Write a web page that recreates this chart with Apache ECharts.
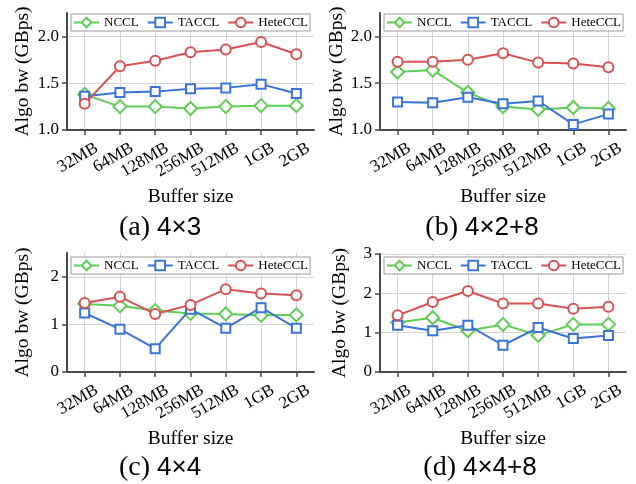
<!DOCTYPE html>
<html>
<head>
<meta charset="utf-8">
<script src="https://cdn.jsdelivr.net/npm/echarts@6/dist/echarts.min.js"></script>
<style>
html, body { margin: 0; padding: 0; background: #fff; }
#chart { width: 636px; height: 484px; }
</style>
</head>
<body>
<div id="chart"></div>
<script>
// buffer sizes on the x axis
const sizes = ['32MB', '64MB', '128MB', '256MB', '512MB', '1GB', '2GB'];
const seriesNames = ['NCCL', 'TACCL', 'HeteCCL'];

// (a) 4x3
const ncclA = [1.38, 1.25, 1.25, 1.23, 1.25, 1.26, 1.26];
const tacclA = [1.36, 1.40, 1.41, 1.44, 1.45, 1.49, 1.39];
const heteA = [1.28, 1.68, 1.74, 1.83, 1.86, 1.94, 1.81];
// (b) 4x2+8
const ncclB = [1.62, 1.64, 1.40, 1.25, 1.22, 1.24, 1.23];
const tacclB = [1.30, 1.29, 1.35, 1.28, 1.31, 1.06, 1.17];
const heteB = [1.73, 1.73, 1.75, 1.82, 1.72, 1.71, 1.67];
// (c) 4x4
const ncclC = [1.43, 1.39, 1.29, 1.23, 1.22, 1.19, 1.20];
const tacclC = [1.24, 0.90, 0.49, 1.32, 0.92, 1.35, 0.92];
const heteC = [1.45, 1.58, 1.22, 1.41, 1.74, 1.65, 1.61];
// (d) 4x4+8
const ncclD = [1.26, 1.38, 1.05, 1.21, 0.93, 1.21, 1.21];
const tacclD = [1.19, 1.05, 1.19, 0.68, 1.13, 0.85, 0.93];
const heteD = [1.44, 1.78, 2.06, 1.74, 1.74, 1.61, 1.66];

// y tick labels per panel
const ticksTop = [1.0, 1.5, 2.0];
const ticksC = [0, 1, 2];
const ticksD = [0, 1, 2, 3];

const colors = ['#5fcd55', '#3b74d8', '#d75252'];
const symbols = ['emptyDiamond', 'emptyRect', 'emptyCircle'];
const symbolSizes = [13, 9, 10];
const serif = 'Liberation Serif';
const sans = 'Liberation Sans';

const panels = [
    { tag: '(a)', cfg: '4×3', data: [ncclA, tacclA, heteA], ticks: ticksTop, min: 1, max: 2.25, dec: 1,
      grid: { left: 67, top: 13, width: 247, height: 117 }, nameGap: 34, legend: { left: 71, top: 14 }, title: { left: 160, top: 213 } },
    { tag: '(b)', cfg: '4×2+8', data: [ncclB, tacclB, heteB], ticks: ticksTop, min: 1, max: 2.25, dec: 1,
      grid: { left: 380, top: 13, width: 246, height: 117 }, nameGap: 31, legend: { left: 384, top: 14 }, title: { left: 482, top: 213 } },
    { tag: '(c)', cfg: '4×4', data: [ncclC, tacclC, heteC], ticks: ticksC, min: 0, max: 2.5, dec: 0,
      grid: { left: 67, top: 253, width: 247, height: 119 }, nameGap: 34, legend: { left: 71, top: 257 }, title: { left: 160, top: 453 } },
    { tag: '(d)', cfg: '4×4+8', data: [ncclD, tacclD, heteD], ticks: ticksD, min: 0, max: 3, dec: 0,
      grid: { left: 380, top: 254, width: 246, height: 118 }, nameGap: 30, legend: { left: 384, top: 257 }, title: { left: 480, top: 453 } }
];

const axisColor = '#4a4a4a';
const gridColor = '#d4d4d4';

const option = {
    animation: false,
    backgroundColor: '#fff',
    title: [],
    legend: [],
    grid: [],
    xAxis: [],
    yAxis: [],
    series: []
};

panels.forEach(function (p, i) {
    option.grid.push(Object.assign({ containLabel: false }, p.grid));
    option.title.push({
        text: '{p|' + p.tag + '} {d|' + p.cfg + '}',
        left: p.title.left,
        top: p.title.top,
        textAlign: 'center',
        padding: 0,
        textStyle: {
            fontFamily: serif, fontSize: 28, fontWeight: 'normal', color: '#000',
            rich: {
                p: { fontFamily: serif, fontSize: 28, color: '#000', lineHeight: 30 },
                d: { fontFamily: sans, fontSize: 26, color: '#000', lineHeight: 30 }
            }
        }
    });
    option.legend.push({
        data: seriesNames,
        left: p.legend.left,
        top: p.legend.top,
        orient: 'horizontal',
        padding: [2, 2, 2, 2],
        itemWidth: 25,
        itemHeight: 12,
        itemGap: 8,
        backgroundColor: '#fff',
        borderColor: '#9a9a9a',
        borderWidth: 1,
        borderRadius: 0,
        selectedMode: false,
        textStyle: { fontFamily: serif, fontSize: 13, color: '#000' }
    });
    option.xAxis.push({
        type: 'category',
        gridIndex: i,
        data: sizes,
        boundaryGap: true,
        name: 'Buffer size',
        nameLocation: 'middle',
        nameGap: 57,
        nameTextStyle: { fontFamily: serif, fontSize: 19.5, color: '#000' },
        axisLine: { lineStyle: { color: axisColor, width: 2 } },
        axisTick: { show: true, alignWithLabel: true, length: 5, lineStyle: { color: axisColor, width: 1.5 } },
        axisLabel: {
            rotate: 30, margin: 24, interval: 0,
            padding: [0, -14, 0, 0],
            fontFamily: serif, fontSize: 17, color: '#000'
        },
        splitLine: { show: true, alignWithLabel: true, lineStyle: { color: gridColor, width: 1 } }
    });
    option.yAxis.push({
        type: 'value',
        gridIndex: i,
        min: p.min,
        max: p.max,
        interval: p.dec ? 0.5 : 1,
        name: 'Algo bw (GBps)',
        nameLocation: 'middle',
        nameRotate: 90,
        nameGap: p.nameGap,
        nameTextStyle: { fontFamily: serif, fontSize: 19.5, color: '#000' },
        axisLine: { show: true, lineStyle: { color: axisColor, width: 2 } },
        axisTick: { show: true, length: 5, customValues: p.ticks, lineStyle: { color: axisColor, width: 1.5 } },
        axisLabel: {
            margin: 8, fontFamily: serif, fontSize: 17, color: '#000',
            customValues: p.ticks,
            formatter: (function (dec) { return function (v) { return v.toFixed(dec); }; })(p.dec)
        },
        splitLine: { show: true, lineStyle: { color: gridColor, width: 1 } }
    });
    p.data.forEach(function (vals, k) {
        option.series.push({
            name: seriesNames[k],
            type: 'line',
            xAxisIndex: i,
            yAxisIndex: i,
            data: vals,
            symbol: symbols[k],
            symbolSize: symbolSizes[k],
            showAllSymbol: true,
            z: 2 + k,
            color: colors[k],
            lineStyle: { color: colors[k], width: 2 },
            itemStyle: { color: colors[k], borderColor: colors[k], borderWidth: 2 }
        });
    });
});

const chart = echarts.init(document.getElementById('chart'), null, { renderer: 'canvas' });
chart.setOption(option);
</script>
</body>
</html>
